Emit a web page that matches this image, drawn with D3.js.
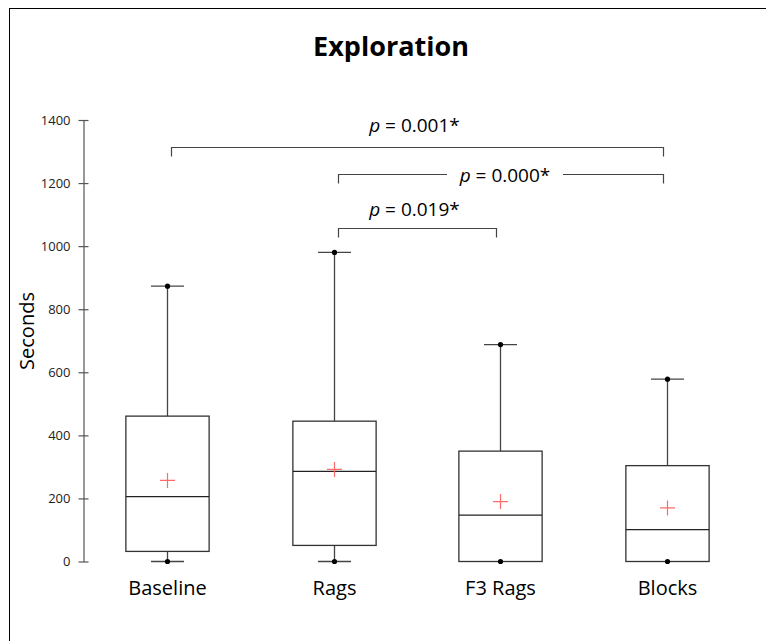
<!DOCTYPE html>
<html>
<head>
<meta charset="utf-8">
<script src="https://cdn.jsdelivr.net/npm/d3@7"></script>
<style>
  html, body { margin: 0; padding: 0; background: #fff; }
  svg { display: block; }
  text { font-family: "Open Sans", "Liberation Sans", sans-serif; }
</style>
</head>
<body>
<svg id="chart" width="766" height="641"></svg>
<script>
// ---- data ----
const categories = ["Baseline", "Rags", "F3 Rags", "Blocks"];
const minVals    = [0, 0, 0, 0];
const q1Vals     = [32, 51, 0, 0];
const medianVals = [206, 286, 147, 101];
const q3Vals     = [461, 445, 350, 304];
const maxVals    = [873, 980, 688, 578];
const meanVals   = [257, 292, 190, 170];
const yTicks     = [0, 200, 400, 600, 800, 1000, 1200, 1400];
const compFrom   = ["Baseline", "Rags", "Rags"];
const compTo     = ["Blocks", "Blocks", "F3 Rags"];
const compLevel  = [1315, 1228, 1056];
const compLabelLevel = [1362, 1206, 1095];
const compValue  = ["0.001*", "0.000*", "0.019*"];
const compInline = [false, true, false];
const titleText = "Exploration";
const yLabel = "Seconds";

// ---- layout ----
const svg = d3.select("#chart");
svg.append("rect").attr("x", 9.5).attr("y", 8.5).attr("width", 800).attr("height", 700)
  .attr("fill", "none").attr("stroke", "#000").attr("stroke-width", 1);

const y = d3.scaleLinear().domain([0, 1400]).range([561.5, 120]);
const x = d3.scalePoint().domain(categories).range([84, 750]).padding(0.5);
const boxW = x.step() * 0.5;
const capW = 33;

// title
svg.append("text").attr("x", 391).attr("y", 56).attr("text-anchor", "middle")
  .attr("font-size", 27).attr("font-weight", "bold").attr("fill", "#000").text(titleText);

// y axis
const axis = d3.axisLeft(y).tickValues(yTicks).tickSize(0).tickPadding(13).tickFormat(d3.format("d"));
const gA = svg.append("g").attr("transform", "translate(83.5,0)").call(axis);
gA.select(".domain").attr("stroke", "#555").attr("stroke-width", 1.2);
gA.selectAll(".tick line").remove();
gA.selectAll(".tick").append("line").attr("x1", -5).attr("x2", 5).attr("stroke", "#555").attr("stroke-width", 1.2);
gA.selectAll(".tick text").attr("font-size", 13).attr("fill", "#222")
  .style("font-family", "'Open Sans', sans-serif");

svg.append("text").attr("transform", "translate(34,331) rotate(-90)").attr("text-anchor", "middle")
  .attr("font-size", 20).attr("fill", "#000").text(yLabel);

// boxes
const g = svg.append("g");
categories.forEach((c, i) => {
  const cx = Math.round(x(c)) + 0.5;
  const stroke = "#333";
  g.append("line").attr("x1", cx).attr("x2", cx).attr("y1", y(q3Vals[i])).attr("y2", y(maxVals[i]))
    .attr("stroke", "#444").attr("stroke-width", 1.3);
  g.append("line").attr("x1", cx - capW / 2).attr("x2", cx + capW / 2).attr("y1", y(maxVals[i])).attr("y2", y(maxVals[i]))
    .attr("stroke", "#444").attr("stroke-width", 1.3);
  if (q1Vals[i] > minVals[i]) {
    g.append("line").attr("x1", cx).attr("x2", cx).attr("y1", y(q1Vals[i])).attr("y2", y(minVals[i]))
      .attr("stroke", "#444").attr("stroke-width", 1.3);
    g.append("line").attr("x1", cx - capW / 2).attr("x2", cx + capW / 2).attr("y1", y(minVals[i])).attr("y2", y(minVals[i]))
      .attr("stroke", "#444").attr("stroke-width", 1.3);
  }
  g.append("rect").attr("x", cx - boxW / 2).attr("y", y(q3Vals[i]))
    .attr("width", boxW).attr("height", y(q1Vals[i]) - y(q3Vals[i]))
    .attr("fill", "none").attr("stroke", stroke).attr("stroke-width", 1.3);
  g.append("line").attr("x1", cx - boxW / 2).attr("x2", cx + boxW / 2).attr("y1", y(medianVals[i])).attr("y2", y(medianVals[i]))
    .attr("stroke", "#222").attr("stroke-width", 1.2);
  [minVals[i], maxVals[i]].forEach(v => {
    g.append("circle").attr("cx", cx).attr("cy", y(v)).attr("r", 2.6).attr("fill", "#000");
  });
  const my = y(meanVals[i]);
  g.append("path").attr("d", `M${cx - 7.5},${my}H${cx + 7.5}M${cx},${my - 7.5}V${my + 7.5}`)
    .attr("stroke", "#ff6b6b").attr("stroke-width", 1.2).attr("fill", "none");
  g.append("text").attr("x", cx).attr("y", 595).attr("text-anchor", "middle")
    .attr("font-size", 20).attr("fill", "#000").text(c);
});

// significance brackets
const gS = svg.append("g");
const inset = 4;
compFrom.forEach((f, i) => {
  const x1 = Math.round(x(f)) + 0.5 + inset, x2 = Math.round(x(compTo[i])) + 0.5 - inset;
  const by = Math.round(y(compLevel[i])) + 0.5;
  const tickLen = 9;
  const label = gS.append("text").attr("text-anchor", "middle").attr("font-size", 19).attr("fill", "#000");
  label.append("tspan").attr("font-style", "italic").text("p");
  label.append("tspan").text(" = " + compValue[i]);
  if (compInline[i]) {
    const lx = (x1 + x2) / 2 + 4;
    label.attr("x", lx).attr("y", by + 7);
    const half = 58;
    gS.append("path").attr("d", `M${x1},${by + tickLen}V${by}H${lx - half}M${lx + half},${by}H${x2}V${by + tickLen}`)
      .attr("fill", "none").attr("stroke", "#444").attr("stroke-width", 1.2);
  } else {
    label.attr("x", (x1 + x2) / 2 - 3).attr("y", y(compLabelLevel[i]));
    gS.append("path").attr("d", `M${x1},${by + tickLen}V${by}H${x2}V${by + tickLen}`)
      .attr("fill", "none").attr("stroke", "#444").attr("stroke-width", 1.2);
  }
});
</script>
</body>
</html>
